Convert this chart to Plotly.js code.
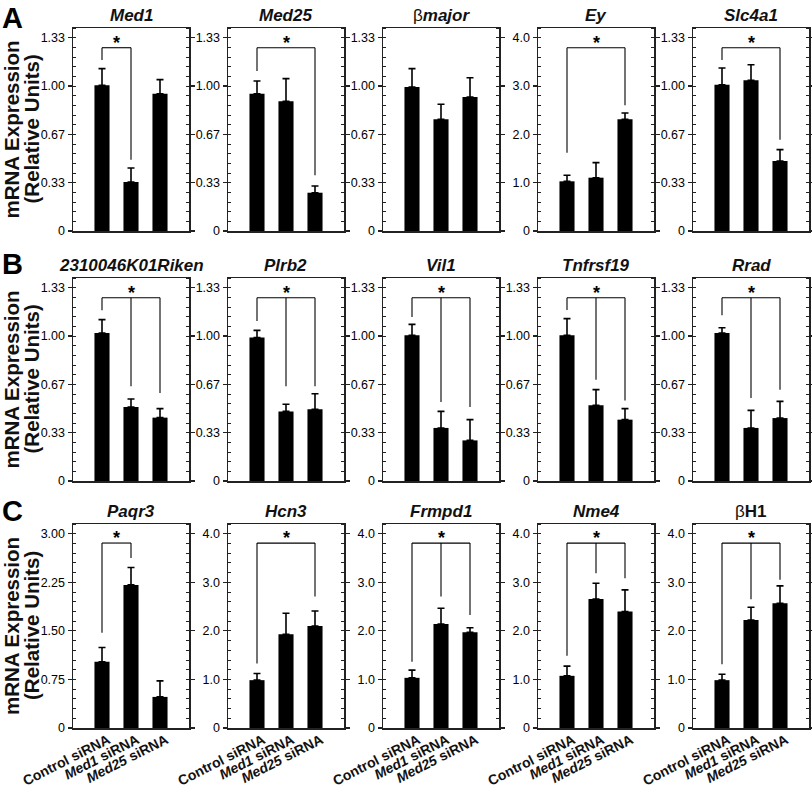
<!DOCTYPE html>
<html><head><meta charset="utf-8">
<script src="https://cdn.plot.ly/plotly-3.0.1.min.js"></script>
<style>html,body{margin:0;padding:0;background:#fff}#chart{width:812px;height:794px}</style>
</head><body><div id="chart"></div>
<script>
// ---------- data ----------
const groupLabels = ['<b>Control siRNA</b>', '<b><i>Med1</i> siRNA</b>', '<b><i>Med25</i> siRNA</b>'];
const geneTitles = [
  '<b><i>Med1</i></b>', '<b><i>Med25</i></b>', '<span style="font-weight:normal">β</span><b><i>major</i></b>', '<b><i>Ey</i></b>', '<b><i>Slc4a1</i></b>',
  '<b><i>2310046K01Riken</i></b>', '<b><i>Plrb2</i></b>', '<b><i>Vil1</i></b>', '<b><i>Tnfrsf19</i></b>', '<b><i>Rrad</i></b>',
  '<b><i>Paqr3</i></b>', '<b><i>Hcn3</i></b>', '<b><i>Frmpd1</i></b>', '<b><i>Nme4</i></b>', '<span style="font-weight:normal">β</span><b>H1</b>'
];
const panelLetters = ['A', 'B', 'C'];

const meanValues = [
  [1.005, 0.338, 0.947],
  [0.947, 0.894, 0.264],
  [0.993, 0.770, 0.924],
  [1.028, 1.103, 2.310],
  [1.009, 1.039, 0.483],
  [1.021, 0.510, 0.437],
  [0.989, 0.480, 0.494],
  [1.005, 0.366, 0.280],
  [1.005, 0.522, 0.423],
  [1.021, 0.366, 0.434],
  [1.022, 2.210, 0.480],
  [0.985, 1.928, 2.100],
  [1.033, 2.141, 1.969],
  [1.074, 2.657, 2.396],
  [0.985, 2.224, 2.568]
];
const semValues = [
  [0.115, 0.096, 0.097],
  [0.087, 0.157, 0.046],
  [0.127, 0.104, 0.133],
  [0.124, 0.311, 0.130],
  [0.115, 0.108, 0.078],
  [0.092, 0.056, 0.062],
  [0.050, 0.049, 0.108],
  [0.075, 0.114, 0.143],
  [0.115, 0.108, 0.076],
  [0.036, 0.121, 0.115],
  [0.222, 0.268, 0.248],
  [0.137, 0.433, 0.310],
  [0.158, 0.324, 0.096],
  [0.200, 0.324, 0.447],
  [0.123, 0.261, 0.358]
];
// significance brackets: [bar index, leg bottom value]
const bracketLegs = [
  [[0, 1.180], [1, 0.492]],
  [[0, 1.103], [2, 0.384]],
  [],
  [[0, 1.620], [2, 2.600]],
  [[0, 1.180], [2, 0.630]],
  [[0, 1.177], [1, 0.653], [2, 0.607]],
  [[0, 1.103], [1, 0.653], [2, 0.653]],
  [[0, 1.131], [1, 0.545], [2, 0.510]],
  [[0, 1.180], [1, 0.699], [2, 0.556]],
  [[0, 1.143], [1, 0.572], [2, 0.630]],
  [[0, 1.471], [1, 2.624]],
  [[0, 1.329], [2, 2.706]],
  [[0, 1.363], [1, 2.706], [2, 2.327]],
  [[0, 1.487], [1, 3.188], [2, 3.084]],
  [[0, 1.315], [1, 2.651], [2, 3.050]]
];
const bracketTop = [1.264, 1.264, null, 3.79, 1.264, 1.264, 1.264, 1.264, 1.264, 1.264, 2.856, 3.807, 3.807, 3.807, 3.807];

const ticksThirds = [0, 1/3, 2/3, 1, 4/3];
const labelsThirds = ['0', '0.33', '0.67', '1.00', '1.33'];
const ticksOnes = [0, 1, 2, 3, 4];
const labelsOnes = ['0', '1.0', '2.0', '3.0', '4.0'];
const ticksQuarters = [0, 0.75, 1.5, 2.25, 3];
const labelsQuarters = ['0', '0.75', '1.50', '2.25', '3.00'];
const panelScale = ['thirds','thirds','thirds','ones','thirds',
  'thirds','thirds','thirds','thirds','thirds',
  'quarters','ones','ones','ones','ones'];

// ---------- layout helpers ----------
const W = 812, H = 794;
const FONT = 'Liberation Sans, Arial, Helvetica, sans-serif';
const colLeft = [73, 228, 383, 538, 693];
const colWidth = 116;
const rowTop = [28, 278, 524];
const rowBottom = [231, 481, 728];
const scales = {
  thirds:   {vals: ticksThirds,   text: labelsThirds,   max: 1.4,  minor: 1/15},
  ones:     {vals: ticksOnes,     text: labelsOnes,     max: 4.2,  minor: 0.2},
  quarters: {vals: ticksQuarters, text: labelsQuarters, max: 3.15, minor: 0.15}
};

const traces = [];
const layout = {
  width: W, height: H,
  margin: {l: 0, r: 0, t: 0, b: 0},
  paper_bgcolor: '#fff', plot_bgcolor: '#fff',
  showlegend: false,
  font: {family: FONT, color: '#111'},
  annotations: [], shapes: []
};

for (let i = 0; i < 15; i++) {
  const row = Math.floor(i / 5), col = i % 5;
  const n = i + 1;
  const xa = n === 1 ? 'x' : 'x' + n;
  const ya = n === 1 ? 'y' : 'y' + n;
  const sc = scales[panelScale[i]];
  const x0 = colLeft[col] / W, x1 = (colLeft[col] + colWidth) / W;
  const y0 = 1 - rowBottom[row] / H, y1 = 1 - rowTop[row] / H;

  traces.push({
    type: 'bar', x: [0, 1, 2], y: meanValues[i], width: 0.52,
    xaxis: xa, yaxis: ya,
    marker: {color: '#000', line: {width: 0}},
    error_y: {type: 'data', symmetric: false, array: semValues[i], arrayminus: [0, 0, 0],
      color: '#000', thickness: 1.6, width: 3.5},
    hoverinfo: 'skip'
  });

  layout[n === 1 ? 'xaxis' : 'xaxis' + n] = {
    domain: [x0, x1], anchor: ya, range: [-1, 3],
    tickmode: 'array', tickvals: [0, 1, 2], ticktext: groupLabels,
    showticklabels: row === 2, ticks: '', tickangle: -27,
    ticklabelstandoff: -3, ticklabelshift: 6,
    tickfont: {size: 14, family: FONT, color: '#111'},
    showline: true, mirror: true, linecolor: '#222', linewidth: 1.5,
    showgrid: false, zeroline: false, fixedrange: true
  };
  layout[n === 1 ? 'yaxis' : 'yaxis' + n] = {
    domain: [y0, y1], anchor: xa, range: [0, sc.max],
    tickmode: 'array', tickvals: sc.vals, ticktext: sc.text,
    ticks: 'outside', ticklen: 4, tickwidth: 1.2, tickcolor: '#222',
    tickfont: {size: 12.5, family: FONT, color: '#000'},
    showline: true, mirror: 'allticks', linecolor: '#222', linewidth: 1.5,
    showgrid: false, zeroline: false, fixedrange: true,
    minor: {tickmode: 'linear', tick0: 0, dtick: sc.minor, ticks: 'inside', ticklen: 3,
      tickwidth: 1, tickcolor: '#222', showgrid: false}
  };

  // gene title
  layout.annotations.push({
    xref: 'paper', yref: 'paper', x: (x0 + x1) / 2, y: 1 - (rowTop[row] - 1) / H,
    xanchor: 'center', yanchor: 'bottom', showarrow: false,
    text: geneTitles[i], font: {size: 17, family: FONT, color: '#111'}
  });

  // significance bracket
  const legs = bracketLegs[i];
  if (legs.length) {
    const top = bracketTop[i];
    const xs = legs.map(l => l[0]);
    const line = {color: '#000', width: 1.1};
    layout.shapes.push({type: 'line', xref: xa, yref: ya,
      x0: Math.min(...xs), x1: Math.max(...xs), y0: top, y1: top, line});
    legs.forEach(l => layout.shapes.push({type: 'line', xref: xa, yref: ya,
      x0: l[0], x1: l[0], y0: top, y1: l[1], line}));
    layout.annotations.push({
      xref: xa, yref: ya, x: (Math.min(...xs) + Math.max(...xs)) / 2, y: top,
      xanchor: 'center', yanchor: 'middle', yshift: 5, showarrow: false,
      text: '<b>*</b>', font: {size: 18, family: FONT, color: '#000'}
    });
  }
}

// row letters and y-axis titles
for (let r = 0; r < 3; r++) {
  layout.annotations.push({
    xref: 'paper', yref: 'paper', x: 0, y: 1 - (r === 0 ? 0 : r === 1 ? 246 : 493) / H,
    xanchor: 'left', yanchor: 'top', showarrow: false,
    text: '<b>' + panelLetters[r] + '</b>', font: {size: 29, family: FONT, color: '#000'}
  });
  const yc = 1 - ((rowTop[r] + rowBottom[r]) / 2) / H;
  layout.annotations.push({
    xref: 'paper', yref: 'paper', x: 11 / W, y: yc, xanchor: 'center', yanchor: 'middle',
    textangle: -90, showarrow: false,
    text: '<b>mRNA Expression</b>', font: {size: 20.5, family: FONT, color: '#111'}
  });
  layout.annotations.push({
    xref: 'paper', yref: 'paper', x: 31 / W, y: yc, xanchor: 'center', yanchor: 'middle',
    textangle: -90, showarrow: false,
    text: '<b>(Relative Units)</b>', font: {size: 20.5, family: FONT, color: '#111'}
  });
}

Plotly.newPlot('chart', traces, layout, {staticPlot: true, displayModeBar: false});
</script></body></html>
